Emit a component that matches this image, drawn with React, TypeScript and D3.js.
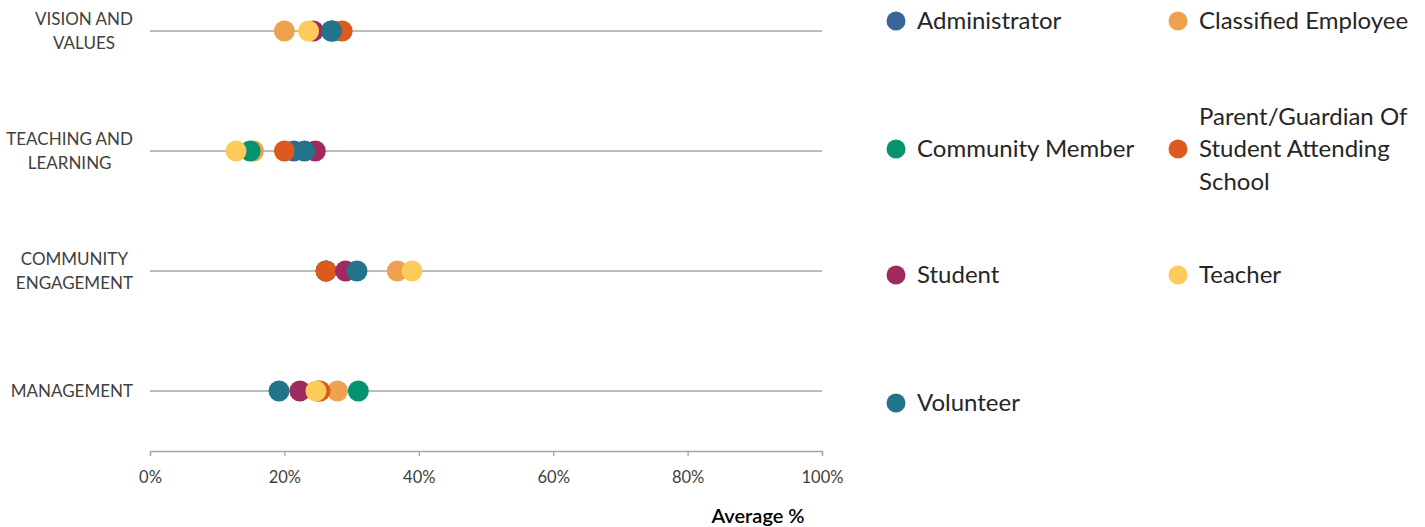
import React, { useEffect, useRef } from "react";
import * as d3 from "d3";

const categories = ["VISION AND VALUES", "TEACHING AND LEARNING", "COMMUNITY ENGAGEMENT", "MANAGEMENT"];
const categoryLines = [["VISION AND", "VALUES"], ["TEACHING AND", "LEARNING"], ["COMMUNITY", "ENGAGEMENT"], ["MANAGEMENT"]];

const seriesNames = ["Administrator", "Classified Employee", "Community Member", "Parent/Guardian Of Student Attending School", "Student", "Teacher", "Volunteer"];
const legendLines = [["Administrator"], ["Classified Employee"], ["Community Member"], ["Parent/Guardian Of", "Student Attending", "School"], ["Student"], ["Teacher"], ["Volunteer"]];
const seriesColors = ["#3A6599", "#F0A150", "#05936F", "#DD5A1F", "#A0295F", "#FDCB5A", "#22748A"];

const administrator = [27.0, 21.4, 26.2, 25.0];
const classifiedEmployee = [20.0, 15.4, 36.8, 27.9];
const communityMember = [27.3, 14.9, 26.2, 31.0];
const parentGuardian = [28.6, 20.0, 26.2, 25.3];
const student = [24.3, 24.6, 29.1, 22.3];
const teacher = [23.6, 12.8, 39.0, 24.7];
const volunteer = [27.0, 23.0, 30.8, 19.2];
const seriesValues = [administrator, classifiedEmployee, communityMember, parentGuardian, student, teacher, volunteer];

const xTicks = [0, 20, 40, 60, 80, 100];
const xTitle = "Average %";

const FONT = "Lato, 'Open Sans', sans-serif";

export default function App() {
  const ref = useRef<SVGSVGElement>(null);

  useEffect(() => {
    const svg = d3.select(ref.current);
    svg.selectAll("*").remove();

    const x = d3.scaleLinear().domain([0, 100]).range([150, 822]);
    const y = d3.scaleBand<string>().domain(categories).range([-29, 451]);
    const yc = (c: string) => (y(c) as number) + y.bandwidth() / 2;

    // row lines
    svg.append("g")
      .selectAll("line")
      .data(categories)
      .join("line")
      .attr("x1", x(0)).attr("x2", x(100))
      .attr("y1", (d) => yc(d)).attr("y2", (d) => yc(d))
      .attr("stroke", "#A6A6A6").attr("stroke-width", 1.3);

    // x axis
    const axis = d3.axisBottom(x).tickValues(xTicks).tickSize(5).tickFormat((d) => `${d}%`);
    const gx = svg.append("g").attr("transform", "translate(0,451)").call(axis);
    gx.select(".domain").attr("stroke", "#A6A6A6").attr("stroke-width", 1.3);
    gx.selectAll(".tick line").attr("stroke", "#A6A6A6").attr("stroke-width", 1.3);
    gx.selectAll(".tick text")
      .attr("y", 20)
      .attr("dy", "0.71em")
      .attr("fill", "#404040")
      .style("font-family", FONT)
      .style("font-size", "16.5px")
      .style("font-weight", "400");

    svg.append("text")
      .attr("x", 758).attr("y", 523)
      .attr("text-anchor", "middle")
      .attr("fill", "#000")
      .style("font-family", FONT)
      .style("font-size", "20px")
      .style("font-weight", "600")
      .text(xTitle);

    // category labels: block right-aligned, lines centered within block
    categories.forEach((c, i) => {
      const lines = categoryLines[i];
      const g = svg.append("g");
      const texts = lines.map((l, j) =>
        g.append("text")
          .attr("y", yc(c) + (j - (lines.length - 1) / 2) * 24)
          .attr("dy", "0.35em")
          .attr("text-anchor", "middle")
          .attr("fill", "#404040")
          .style("font-family", FONT)
          .style("font-size", "17px")
          .style("font-weight", "400")
          .text(l)
      );
      const widths = texts.map((t) => (t.node() as SVGTextElement).getComputedTextLength());
      const maxW = Math.max(...widths);
      texts.forEach((t) => t.attr("x", 133 - maxW / 2));
    });

    // dots
    seriesNames.forEach((s, si) => {
      svg.append("g")
        .selectAll("circle")
        .data(categories.map((c, ci) => ({ c, v: seriesValues[si][ci] })))
        .join("circle")
        .attr("cx", (d) => x(d.v))
        .attr("cy", (d) => yc(d.c))
        .attr("r", 10.5)
        .attr("fill", seriesColors[si]);
    });

    // legend
    const colX = [896, 1178];
    const rowY = [21, 149, 275, 403];
    seriesNames.forEach((s, i) => {
      const cx = colX[i % 2];
      const cy = rowY[Math.floor(i / 2)];
      const g = svg.append("g");
      g.append("circle").attr("cx", cx).attr("cy", cy).attr("r", 9.5).attr("fill", seriesColors[i]);
      const lines = legendLines[i];
      lines.forEach((l, j) => {
        g.append("text")
          .attr("x", cx + 21)
          .attr("y", cy + (j - (lines.length - 1) / 2) * 32.5)
          .attr("dy", "0.35em")
          .attr("fill", "#262626")
          .style("font-family", FONT)
          .style("font-size", "24px")
          .style("font-weight", "400")
          .text(l);
      });
    });
  }, []);

  return (
    <svg
      ref={ref}
      width={1425}
      height={527}
      style={{ position: "absolute", left: 0, top: 0, background: "#fff", display: "block" }}
    />
  );
}
